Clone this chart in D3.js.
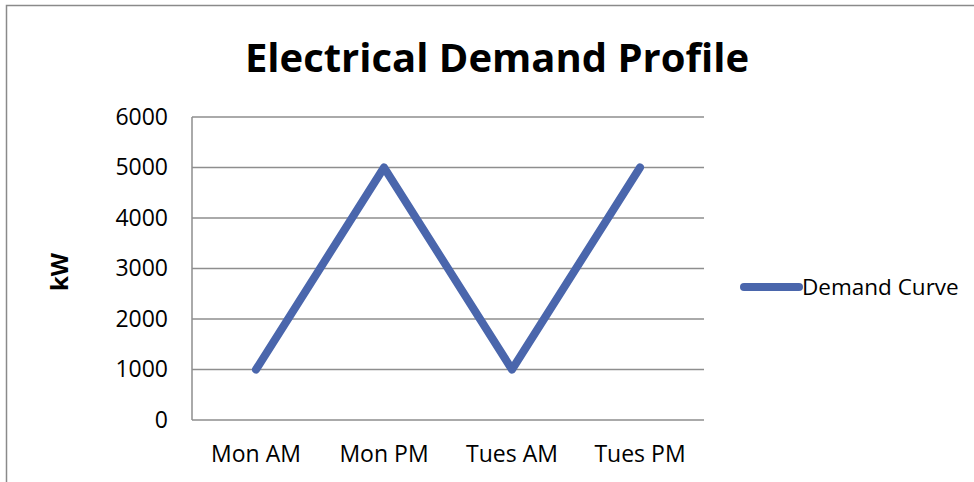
<!DOCTYPE html>
<html>
<head>
<meta charset="utf-8">
<script src="https://cdn.jsdelivr.net/npm/d3@7"></script>
<style>
  html, body { margin: 0; padding: 0; background: #fff; }
  svg { display: block; }
</style>
</head>
<body>
<svg id="chart" width="974" height="482"></svg>
<script>
const categories = ['Mon AM', 'Mon PM', 'Tues AM', 'Tues PM'];
const demand = [1000, 5000, 1000, 5000];
const yTicks = [0, 1000, 2000, 3000, 4000, 5000, 6000];
const seriesName = 'Demand Curve';

const font = '"Open Sans", "Noto Sans", sans-serif';
const lineColor = '#4a66ac';
const gridColor = '#8e8e8e';

const svg = d3.select('#chart');
const plot = { left: 192, right: 704, top: 117, bottom: 420 };

// outer frame (right/bottom run off the image)
svg.append('rect')
  .attr('x', 6.5).attr('y', 5.5)
  .attr('width', 1000).attr('height', 1000)
  .attr('fill', 'none').attr('stroke', '#8a8a8a').attr('stroke-width', 1.5);

const x = d3.scaleBand().domain(categories).range([plot.left, plot.right]);
const y = d3.scaleLinear().domain([0, 6000]).range([plot.bottom, plot.top]);

// gridlines
svg.append('g')
  .selectAll('line')
  .data(yTicks)
  .join('line')
  .attr('x1', plot.left).attr('x2', plot.right)
  .attr('y1', (d) => y(d)).attr('y2', (d) => y(d))
  .attr('stroke', gridColor).attr('stroke-width', 1.5);

// y axis line
svg.append('line')
  .attr('x1', plot.left).attr('x2', plot.left)
  .attr('y1', plot.top).attr('y2', plot.bottom)
  .attr('stroke', gridColor).attr('stroke-width', 1.5);

const yAxis = svg.append('g')
  .attr('transform', `translate(${plot.left},0)`)
  .call(d3.axisLeft(y).tickValues(yTicks).tickSize(0).tickPadding(24).tickFormat(d3.format('d')));
yAxis.select('.domain').remove();
yAxis.selectAll('text')
  .attr('font-family', font).attr('font-size', 23).attr('fill', '#000');

const xAxis = svg.append('g')
  .attr('transform', `translate(0,${plot.bottom})`)
  .call(d3.axisBottom(x).tickSize(0).tickPadding(26));
xAxis.select('.domain').remove();
xAxis.selectAll('text')
  .attr('font-family', font).attr('font-size', 23).attr('fill', '#000');

// series
const line = d3.line()
  .x((d, i) => x(categories[i]) + x.bandwidth() / 2)
  .y((d) => y(d));

svg.append('path')
  .datum(demand)
  .attr('d', line)
  .attr('fill', 'none')
  .attr('stroke', lineColor)
  .attr('stroke-width', 8)
  .attr('stroke-linecap', 'round')
  .attr('stroke-linejoin', 'round');

// title
svg.append('text')
  .attr('x', 497).attr('y', 72)
  .attr('text-anchor', 'middle')
  .attr('font-family', font).attr('font-weight', 'bold').attr('font-size', 40)
  .attr('fill', '#000')
  .text('Electrical Demand Profile');

// y axis title
svg.append('text')
  .attr('transform', 'translate(68,272) rotate(-90)')
  .attr('text-anchor', 'middle')
  .attr('font-family', font).attr('font-weight', 'bold').attr('font-size', 24)
  .attr('fill', '#000')
  .text('kW');

// legend
const legend = svg.append('g').attr('transform', 'translate(744,287)');
legend.append('line')
  .attr('x1', 0).attr('x2', 55)
  .attr('stroke', lineColor).attr('stroke-width', 8)
  .attr('stroke-linecap', 'round');
legend.append('text')
  .attr('x', 58).attr('y', 0).attr('dy', '0.35em')
  .attr('font-family', font).attr('font-size', 22.5).attr('fill', '#000')
  .text(seriesName);
</script>
</body>
</html>
